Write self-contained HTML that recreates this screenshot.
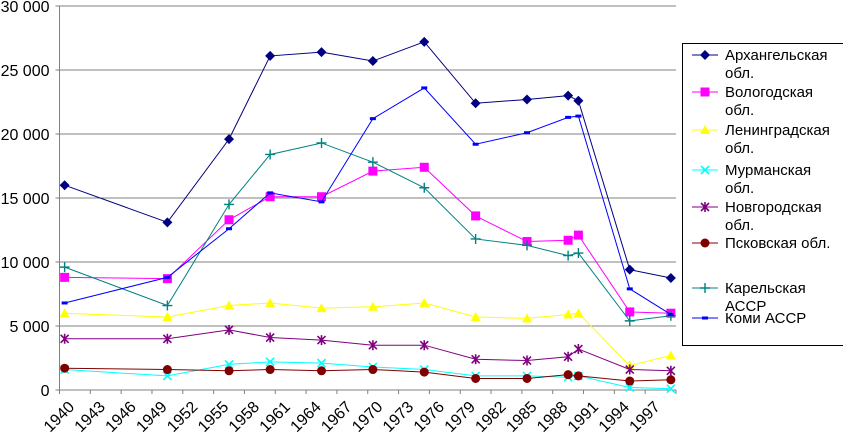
<!DOCTYPE html>
<html><head><meta charset="utf-8">
<style>
html,body{margin:0;padding:0;background:#fff;}
svg{display:block;font-family:"Liberation Sans",Arial,sans-serif;}
</style></head>
<body>
<svg id="chart" width="843" height="438" viewBox="0 0 843 438">
<g id="grid"></g>
<g id="axes"></g>
<g id="series"></g>
<g id="legend"></g>
</svg>
<script>
const years = [1940,1950,1956,1960,1965,1970,1975,1980,1985,1989,1990,1995,1999];
const arkhangelsk = [16000,13100,19600,26100,26400,25700,27200,22400,22700,23000,22600,9400,8750];
const vologda = [8800,8700,13300,15100,15100,17100,17400,13600,11600,11700,12100,6100,6000];
const leningrad = [6000,5700,6600,6800,6400,6500,6800,5700,5600,5900,6000,1900,2700];
const murmansk = [1600,1100,2000,2200,2100,1800,1600,1100,1100,1000,1100,200,100];
const novgorod = [4000,4000,4700,4100,3900,3500,3500,2400,2300,2600,3200,1600,1500];
const pskov = [1700,1600,1500,1600,1500,1600,1400,900,900,1200,1100,700,800];
const karelia = [9600,6600,14500,18400,19300,17800,15800,11800,11300,10500,10700,5400,5800];
const komi = [6800,8800,12600,15400,14700,21200,23600,19200,20100,21300,21400,7900,5900];
const yTicks = [0,5000,10000,15000,20000,25000,30000];
const yTickLabels = ["0","5 000","10 000","15 000","20 000","25 000","30 000"];
const xTickYears = [1940,1943,1946,1949,1952,1955,1958,1961,1964,1967,1970,1973,1976,1979,1982,1985,1988,1991,1994,1997];

const NS="http://www.w3.org/2000/svg";
const X0=59.5, X1=676, Y0=390, Y1=6, firstYear=1940, nYears=60;
const pxPerYear=(X1-X0)/nYears;
function xScale(yr){return X0+(yr-firstYear+0.5)*pxPerYear;}
function xTick(yr){return X0+(yr-firstYear)*pxPerYear;}
function yScale(v){return Y0-(v/30000)*(Y0-Y1);}
function mk(tag,attrs,parent){const e=document.createElementNS(NS,tag);for(const k in attrs)e.setAttribute(k,attrs[k]);parent.appendChild(e);return e;}

const grid=document.getElementById('grid');
yTicks.forEach((v,i)=>{
  if(v>0){const l=mk('line',{x1:X0,x2:X1,y1:yScale(v),y2:yScale(v),stroke:'#808080','stroke-width':1},grid);
  
  }
});
const axes=document.getElementById('axes');
const ya=mk('line',{x1:X0,x2:X0,y1:Y1,y2:Y0,stroke:'#808080'},axes);


const xa=mk('line',{x1:X0,x2:X1,y1:Y0,y2:Y0,stroke:'#808080'},axes);


yTicks.forEach((v,i)=>{
  const y=yScale(v);
  mk('line',{x1:X0-4,x2:X0,y1:y,y2:y,stroke:'#808080'},axes);
  const t=mk('text',{x:X0-10,y:y+6,'text-anchor':'end','font-size':16,fill:'#000'},axes);
  t.textContent=yTickLabels[i];
  
  
});
for(let k=0;k<=20;k++){const x=xTick(firstYear+3*k);mk('line',{x1:x,x2:x,y1:Y0,y2:Y0+4,stroke:'#808080'},axes);}
xTickYears.forEach(yr=>{
  const x=xTick(yr)+8, y=Y0+10;
  const t=mk('text',{x:x,y:y,'text-anchor':'end','font-size':16,fill:'#000',transform:`rotate(-45 ${x} ${y}) translate(0 11)`},axes);
  t.textContent=String(yr);
  
  
});

function marker(type,x,y,color,g){
  const s=4;
  switch(type){
    case 'diamond': mk('polygon',{points:`${x},${y-s-1} ${x+s+1},${y} ${x},${y+s+1} ${x-s-1},${y}`,fill:color},g);break;
    case 'square': mk('rect',{x:x-4.5,y:y-4.5,width:9,height:9,fill:color},g);break;
    case 'triangle': mk('polygon',{points:`${x},${y-5} ${x+5},${y+4} ${x-5},${y+4}`,fill:color},g);break;
    case 'x': mk('path',{d:`M${x-4} ${y-4}L${x+4} ${y+4}M${x-4} ${y+4}L${x+4} ${y-4}`,stroke:color,'stroke-width':1.6,fill:'none'},g);break;
    case 'star': mk('path',{d:`M${x-4} ${y-4}L${x+4} ${y+4}M${x-4} ${y+4}L${x+4} ${y-4}M${x} ${y-5}L${x} ${y+5}`,stroke:color,'stroke-width':1.6,fill:'none'},g);break;
    case 'circle': mk('circle',{cx:x,cy:y,r:4.5,fill:color},g);break;
    case 'plus': mk('path',{d:`M${x-5} ${y}L${x+5} ${y}M${x} ${y-5}L${x} ${y+5}`,stroke:color,'stroke-width':1.4,fill:'none'},g);break;
    case 'dash': mk('rect',{x:x-3,y:y-1.5,width:6,height:3,fill:color},g);break;
  }
}
const seriesDefs=[
 {name:'arkhangelsk',label:['Архангельская','обл.'],data:arkhangelsk,color:'#000080',m:'diamond',ly:55},
 {name:'vologda',label:['Вологодская','обл.'],data:vologda,color:'#FF00FF',m:'square',ly:92},
 {name:'leningrad',label:['Ленинградская','обл.'],data:leningrad,color:'#FFFF00',m:'triangle',ly:130},
 {name:'murmansk',label:['Мурманская','обл.'],data:murmansk,color:'#00FFFF',m:'x',ly:170},
 {name:'novgorod',label:['Новгородская','обл.'],data:novgorod,color:'#800080',m:'star',ly:207},
 {name:'pskov',label:['Псковская обл.'],data:pskov,color:'#800000',m:'circle',ly:243},
 {name:'karelia',label:['Карельская','АССР'],data:karelia,color:'#008080',m:'plus',ly:288},
 {name:'komi',label:['Коми АССР'],data:komi,color:'#0000FF',m:'dash',ly:318}
];
const sg=document.getElementById('series');
seriesDefs.forEach(s=>{
  const g=mk('g',{},sg);
  
  
  const pts=s.data.map((v,i)=>xScale(years[i])+','+yScale(v)).join(' ');
  const pl=mk('polyline',{points:pts,fill:'none',stroke:s.color,'stroke-width':1},g);
  
  
  s.data.forEach((v,i)=>marker(s.m,xScale(years[i]),yScale(v),s.color,g));
});
const lg=document.getElementById('legend');
const box=mk('rect',{x:682.5,y:43.5,width:170,height:302,fill:'#fff',stroke:'#000','stroke-width':1},lg);


seriesDefs.forEach(s=>{
  const g=mk('g',{},lg);
  
  
  mk('line',{x1:692,x2:718,y1:s.ly,y2:s.ly,stroke:s.color},g);
  marker(s.m,705,s.ly,s.color,g);
  s.label.forEach((t,i)=>{
    const tx=mk('text',{x:725,y:s.ly+5+i*18,'font-size':15,fill:'#000'},g);
    tx.textContent=t;
  });
});
</script>
</body></html>
